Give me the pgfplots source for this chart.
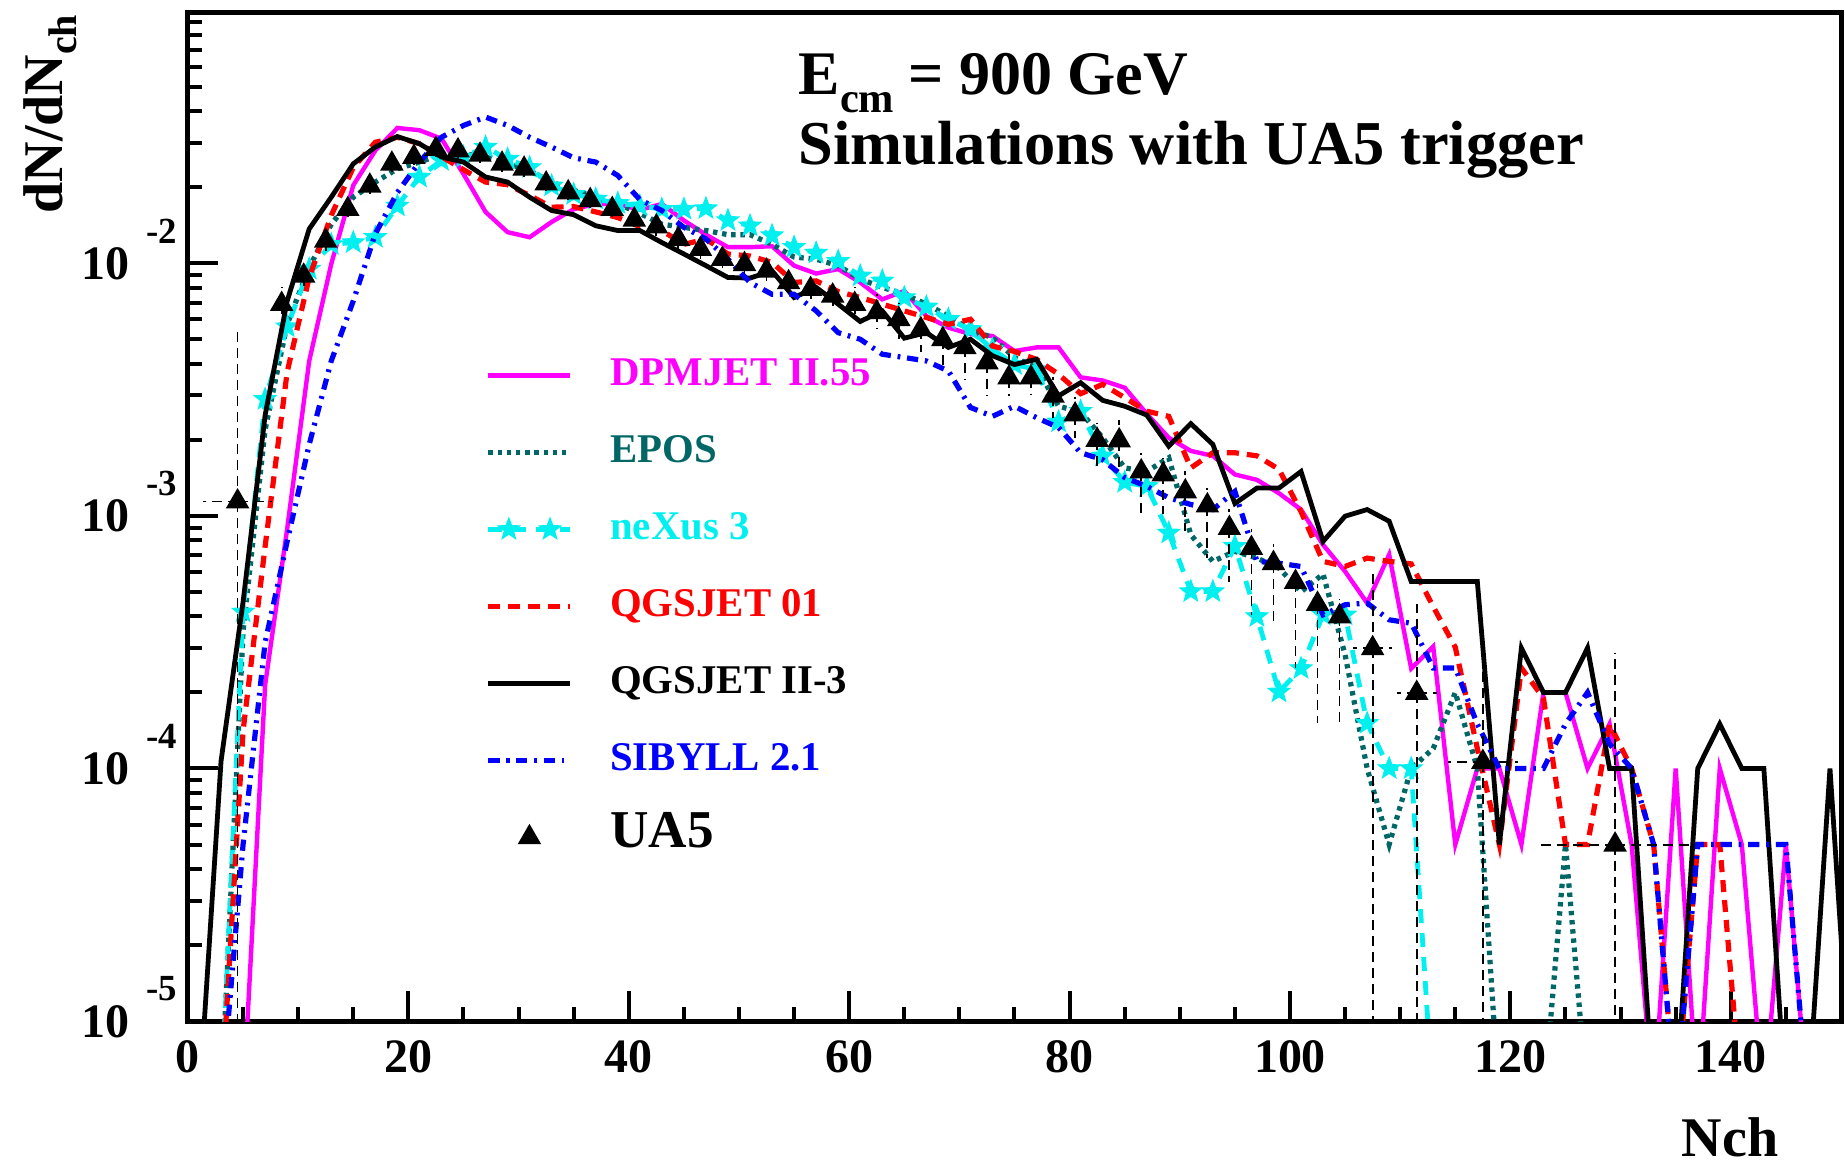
\documentclass[border=0pt]{standalone}
\usepackage{fontspec}
\setmainfont{Liberation Serif}
\usepackage{pgfplots}
\pgfplotsset{compat=1.18}

\definecolor{dpm}{RGB}{255,0,255}
\definecolor{epos}{RGB}{0,102,102}
\definecolor{nex}{RGB}{0,240,240}
\definecolor{qgs}{RGB}{255,0,0}
\definecolor{syb}{RGB}{0,0,255}

% filled five-pointed star
\pgfdeclareplotmark{fstar}{%
  \pgfpathmoveto{\pgfpointpolar{90}{\pgfplotmarksize}}%
  \pgfpathlineto{\pgfpointpolar{126}{0.42\pgfplotmarksize}}%
  \pgfpathlineto{\pgfpointpolar{162}{\pgfplotmarksize}}%
  \pgfpathlineto{\pgfpointpolar{198}{0.42\pgfplotmarksize}}%
  \pgfpathlineto{\pgfpointpolar{234}{\pgfplotmarksize}}%
  \pgfpathlineto{\pgfpointpolar{270}{0.42\pgfplotmarksize}}%
  \pgfpathlineto{\pgfpointpolar{306}{\pgfplotmarksize}}%
  \pgfpathlineto{\pgfpointpolar{342}{0.42\pgfplotmarksize}}%
  \pgfpathlineto{\pgfpointpolar{18}{\pgfplotmarksize}}%
  \pgfpathlineto{\pgfpointpolar{54}{0.42\pgfplotmarksize}}%
  \pgfpathclose
  \pgfusepathqfillstroke}

\pgfplotsset{
  linelegend/.style={legend image code/.code={\draw[mark repeat=2, mark phase=2, ##1] plot coordinates {(0pt,0pt) (5.1pt,0pt) (10.25pt,0pt) (15.4pt,0pt) (20.5pt,0pt)};}},
  ualegend/.style={legend image code/.code={\draw[##1] plot coordinates {(10.25pt,0pt)};}},
}

% ROOT style log label: 10 with exponent up right
\newcommand{\ytl}[1]{\textbf{10}\rlap{\hspace{4.2pt}\raisebox{9.1pt}{\fontsize{9.2}{9}\selectfont\textbf{-#1}}}}

\pgfplotstableread{
x     y        ex   eyp      eym
4.5   1.14e-3  3.1  4.43e-3  1.135e-3
8.5   6.9e-3   0    1.14e-3  0.89e-3
10.5  8.93e-3  0    1.07e-3  0.89e-3
12.5  1.23e-2  0    1.8e-3   1.4e-3
14.5  1.64e-2  0    1.1e-3   1.1e-3
16.5  2.03e-2  0    1.4e-3   1.4e-3
18.5  2.48e-2  0    1.7e-3   1.7e-3
20.5  2.64e-2  0    1.8e-3   1.8e-3
22.5  2.84e-2  0    2.0e-3   2.0e-3
24.5  2.80e-2  0    2.0e-3   2.0e-3
26.5  2.69e-2  0    1.9e-3   1.9e-3
28.5  2.48e-2  0    1.7e-3   1.7e-3
30.5  2.37e-2  0    1.7e-3   1.7e-3
32.5  2.07e-2  0    1.4e-3   1.4e-3
34.5  1.91e-2  0    1.3e-3   1.3e-3
36.5  1.78e-2  0    1.2e-3   1.2e-3
38.5  1.64e-2  0    1.1e-3   1.1e-3
40.5  1.49e-2  0    1.5e-3   1.0e-3
42.5  1.40e-2  0    1.2e-3   1.1e-3
44.5  1.25e-2  0    1.4e-3   1.1e-3
46.5  1.14e-2  0    1.5e-3   1.0e-3
48.5  1.04e-2  0    1.0e-3   0.85e-3
50.5  9.93e-3  0    0.97e-3  0.81e-3
52.5  9.35e-3  0    0.85e-3  0.84e-3
54.5  8.41e-3  0    0.92e-3  0.82e-3
56.5  7.91e-3  0    1.0e-3   0.91e-3
58.5  7.45e-3  0    1.06e-3  0.99e-3
60.5  6.9e-3   0    1.14e-3  0.73e-3
62.5  6.4e-3   0    1.19e-3  0.9e-3
64.5  6.01e-3  0    0.99e-3  1.0e-3
66.5  5.48e-3  0    0.83e-3  1.01e-3
68.5  5.01e-3  0    0.56e-3  1.03e-3
70.5  4.65e-3  0    0.6e-3   1.18e-3
72.5  4.05e-3  0    0.63e-3  1.03e-3
74.5  3.53e-3  0    0.84e-3  0.54e-3
76.5  3.53e-3  0    0.58e-3  0.5e-3
78.5  2.99e-3  0    0.56e-3  0.54e-3
80.5  2.52e-3  0    0.43e-3  0.48e-3
82.5  2.0e-3   0    0.34e-3  0.49e-3
84.5  1.99e-3  0    0.41e-3  0.44e-3
86.5  1.50e-3  0    0.28e-3  0.5e-3
88.5  1.46e-3  0    0.24e-3  0.44e-3
90.5  1.25e-3  0    0.26e-3  0.38e-3
92.5  1.10e-3  0    0.19e-3  0.42e-3
94.5  8.95e-4  0    1.75e-4  3.45e-4
96.5  7.46e-4  0    1.45e-4  3.39e-4
98.5  6.5e-4   0    1.26e-4  2.87e-4
100.5 5.47e-4  0    0.99e-4  2.96e-4
102.5 4.48e-4  0    0.89e-4  2.97e-4
104.5 4.0e-4   0    0.68e-4  2.49e-4
107.5 2.99e-4  1.8  3.04e-4  2.94e-4
111.5 1.99e-4  1.8  2.48e-4  1.94e-4
117.5 1.06e-4  3.2  2.33e-4  1.01e-4
129.5 4.99e-5  6.8  2.38e-4  4.49e-5
}\uafive

\begin{document}
\begin{tikzpicture}
\begin{axis}[
  name=ax,
  scale only axis, width=413.25pt, height=252.25pt,
  xmin=0, xmax=150, ymode=log, ymin=1e-5, ymax=0.099,
  axis line style={line width=1.25pt},
  tick pos=left, tick align=inside,
  major tick length=7.5pt, minor tick length=3.6pt,
  tick style={line width=1pt, black},
  xtick={0,20,...,140}, xticklabels={0,20,40,60,80,100,120,140},
  minor xtick={5,10,...,145},
  ytick={1e-5,1e-4,1e-3,1e-2}, yticklabels={\ytl{5},\ytl{4},\ytl{3},\ytl{2}},
  minor ytick={2e-5,3e-5,4e-5,5e-5,6e-5,7e-5,8e-5,9e-5,2e-4,3e-4,4e-4,5e-4,6e-4,7e-4,8e-4,9e-4,2e-3,3e-3,4e-3,5e-3,6e-3,7e-3,8e-3,9e-3,2e-2,3e-2,4e-2,5e-2,6e-2,7e-2,8e-2,9e-2},
  xticklabel style={font=\bfseries\fontsize{12}{13}\selectfont, anchor=north, inner sep=0pt, yshift=-4.8pt},
  yticklabel style={font=\bfseries\fontsize{12}{13}\selectfont, anchor=base east, inner sep=0pt, xshift=-14.4pt, yshift=-4pt},
  clip marker paths=true,
  legend cell align=left,
  legend style={at={(0.1797,0.6585)}, anchor=north west, draw=none, fill=none, inner sep=0pt,
    row sep=10.25pt, column sep=9.3pt,
    nodes={inner sep=0pt, text height=7pt, text depth=2pt},
    font=\bfseries\fontsize{10.2}{10}\selectfont},
  linelegend,
]

% DPMJET II.55
\addplot[dpm, line width=1.1pt] coordinates {
(1,4.7e-6) (3,4.7e-6) (5,4.7e-6) (7,2.14e-4) (9,8.9e-4) (11,4.11e-3) (13,9.95e-3) (15,2.04e-2) (17,2.80e-2) (19,3.44e-2)
(21,3.37e-2) (23,3.12e-2) (25,2.26e-2) (27,1.60e-2) (29,1.33e-2) (31,1.27e-2) (33,1.46e-2) (35,1.64e-2) (37,1.72e-2) (39,1.72e-2)
(41,1.63e-2) (43,1.72e-2) (45,1.48e-2) (47,1.30e-2) (49,1.16e-2) (51,1.16e-2) (53,1.17e-2) (55,9.8e-3) (57,9.12e-3) (59,9.5e-3)
(61,8.41e-3) (63,7.21e-3) (65,7.78e-3) (67,6.19e-3) (69,5.57e-3) (71,5.25e-3) (73,5.16e-3) (75,4.50e-3) (77,4.65e-3) (79,4.65e-3)
(81,3.54e-3) (83,3.44e-3) (85,3.22e-3) (87,2.54e-3) (89,2.04e-3) (91,1.81e-3) (93,1.73e-3) (95,1.46e-3) (97,1.39e-3) (99,1.23e-3)
(101,1.06e-3) (103,7.69e-4) (105,6.03e-4) (107,4.52e-4) (109,7.03e-4) (111,2.49e-4) (113,3.04e-4) (115,5e-5) (117,1e-4) (119,1e-4)
(121,5e-5) (123,2e-4) (125,2e-4) (127,1e-4) (129,1.5e-4) (131,5e-5) (133,4.7e-6) (135,1e-4) (137,4.7e-6) (139,1e-4)
(141,5e-5) (143,4.7e-6) (145,5e-5) (147,4.7e-6) (149,4.7e-6) (151,4.7e-6)
};
\addlegendentry{\textcolor{dpm}{DPMJET II.55}}

% EPOS
\addplot[epos, line width=1.3pt, dash pattern=on 1.1pt off 1.2pt] coordinates {
(1,4.7e-6) (3,4.7e-6) (5,3.5e-4) (7,2.2e-3) (9,5.75e-3) (11,9.64e-3) (13,1.43e-2) (15,1.83e-2) (17,2.10e-2) (19,2.37e-2)
(21,2.52e-2) (23,2.70e-2) (25,2.72e-2) (27,2.64e-2) (29,2.48e-2) (31,2.33e-2) (33,2.10e-2) (35,1.95e-2) (37,1.83e-2) (39,1.72e-2)
(41,1.58e-2) (43,1.43e-2) (45,1.39e-2) (47,1.35e-2) (49,1.30e-2) (51,1.30e-2) (53,1.19e-2) (55,1.06e-2) (57,1.04e-2) (59,9.8e-3)
(61,8.67e-3) (63,8.04e-3) (65,7.55e-3) (67,6.9e-3) (69,6.19e-3) (71,5.48e-3) (73,5.08e-3) (75,4.24e-3) (77,3.86e-3) (79,2.72e-3)
(81,2.58e-3) (83,2.04e-3) (85,1.55e-3) (87,1.50e-3) (89,1.70e-3) (91,8.43e-4) (93,6.61e-4) (95,7.24e-4) (97,6.81e-4) (99,6.22e-4)
(101,5.01e-4) (103,5.89e-4) (105,2.82e-4) (107,1e-4) (109,5e-5) (111,1e-4) (113,1.2e-4) (115,2e-4) (117,1e-4) (119,4.7e-6)
(121,4.7e-6) (123,4.7e-6) (125,5e-5) (127,4.7e-6) (129,4.7e-6) (131,4.7e-6)
};
\addlegendentry{\textcolor{epos}{EPOS}}

% neXus 3
\addplot[nex, line width=1.2pt, dash pattern=on 3.5pt off 2.5pt, mark=fstar, mark size=2.8pt,
  mark options={solid, fill=nex, draw=nex, line width=0.3pt}] coordinates {
(3,4.7e-6) (5,4.17e-4) (7,2.90e-3) (9,5.62e-3) (11,9.5e-3) (13,1.19e-2) (15,1.21e-2) (17,1.27e-2) (19,1.69e-2)
(21,2.20e-2) (23,2.56e-2) (25,2.64e-2) (27,2.89e-2) (29,2.59e-2) (31,2.40e-2) (33,2.03e-2) (35,1.88e-2) (37,1.80e-2) (39,1.73e-2)
(41,1.69e-2) (43,1.64e-2) (45,1.64e-2) (47,1.65e-2) (49,1.48e-2) (51,1.41e-2) (53,1.29e-2) (55,1.16e-2) (57,1.10e-2) (59,1.02e-2)
(61,8.93e-3) (63,8.53e-3) (65,7.33e-3) (67,6.73e-3) (69,6.01e-3) (71,5.48e-3) (73,4.57e-3) (75,3.98e-3) (77,3.80e-3) (79,2.36e-3)
(81,2.60e-3) (83,1.73e-3) (85,1.36e-3) (87,1.31e-3) (89,8.57e-4) (91,5.02e-4) (93,5.02e-4) (95,7.59e-4) (97,4.0e-4) (99,2.01e-4)
(101,2.49e-4) (103,4.06e-4) (105,4.06e-4) (107,1.51e-4) (109,1e-4) (111,1e-4) (113,4.7e-6) (115,4.7e-6)
};
\addlegendentry{\textcolor{nex}{neXus 3}}

% QGSJET 01
\addplot[qgs, line width=1.3pt, dash pattern=on 3pt off 2pt] coordinates {
(1,4.7e-6) (3,4.7e-6) (5,1.41e-4) (7,7.59e-4) (9,3.72e-3) (11,8.81e-3) (13,1.55e-2) (15,2.40e-2) (17,3.02e-2) (19,3.16e-2)
(21,2.98e-2) (23,2.65e-2) (25,2.35e-2) (27,2.10e-2) (29,2.05e-2) (31,1.86e-2) (33,1.67e-2) (35,1.68e-2) (37,1.60e-2) (39,1.52e-2)
(41,1.40e-2) (43,1.35e-2) (45,1.19e-2) (47,1.25e-2) (49,1.09e-2) (51,1.07e-2) (53,1.01e-2) (55,8.41e-3) (57,8.53e-3) (59,7.74e-3)
(61,7.33e-3) (63,6.9e-3) (65,6.49e-3) (67,6.11e-3) (69,5.74e-3) (71,6.01e-3) (73,4.71e-3) (75,4.48e-3) (77,4.17e-3) (79,3.64e-3)
(81,3.05e-3) (83,3.32e-3) (85,2.94e-3) (87,2.60e-3) (89,2.48e-3) (91,1.55e-3) (93,1.78e-3) (95,1.78e-3) (97,1.73e-3) (99,1.53e-3)
(101,1.04e-3) (103,6.61e-4) (105,6.31e-4) (107,6.81e-4) (109,6.61e-4) (111,6.46e-4) (113,4.37e-4) (115,3.02e-4) (117,1.2e-4) (119,5e-5)
(121,2.5e-4) (123,1.9e-4) (125,5e-5) (127,5e-5) (129,1.5e-4) (131,1e-4) (133,5e-5) (135,4.7e-6) (137,5e-5) (139,5e-5)
(141,4.7e-6) (143,4.7e-6) (145,4.7e-6) (147,4.7e-6) (149,4.7e-6)
};
\addlegendentry{\textcolor{qgs}{QGSJET 01}}

% QGSJET II-3
\addplot[black, line width=1.2pt] coordinates {
(1,4.7e-6) (3,1.07e-4) (5,4.57e-4) (7,2.51e-3) (9,7.1e-3) (11,1.37e-2) (13,1.83e-2) (15,2.48e-2) (17,2.89e-2) (19,3.18e-2)
(21,2.98e-2) (23,2.64e-2) (25,2.52e-2) (27,2.20e-2) (29,2.10e-2) (31,1.83e-2) (33,1.62e-2) (35,1.56e-2) (37,1.41e-2) (39,1.35e-2)
(41,1.35e-2) (43,1.21e-2) (45,1.09e-2) (47,9.8e-3) (49,8.8e-3) (51,8.75e-3) (53,9.35e-3) (55,7.33e-3) (57,8.04e-3) (59,6.9e-3)
(61,5.89e-3) (63,6.49e-3) (65,5.06e-3) (67,5.32e-3) (69,4.65e-3) (71,5.01e-3) (73,4.31e-3) (75,3.98e-3) (77,4.17e-3) (79,2.99e-3)
(81,3.37e-3) (83,2.87e-3) (85,2.72e-3) (87,2.51e-3) (89,1.89e-3) (91,2.32e-3) (93,1.92e-3) (95,1.12e-3) (97,1.29e-3) (99,1.29e-3)
(101,1.50e-3) (103,7.93e-4) (105,9.98e-4) (107,1.06e-3) (109,9.53e-4) (111,5.5e-4) (113,5.5e-4) (115,5.5e-4) (117,5.5e-4) (119,5e-5)
(121,3.0e-4) (123,2.0e-4) (125,2.0e-4) (127,3.0e-4) (129,1e-4) (131,1e-4) (133,4.7e-6) (135,4.7e-6) (137,1e-4) (139,1.5e-4)
(141,1e-4) (143,1e-4) (145,4.7e-6) (147,4.7e-6) (149,1e-4) (151,4.7e-6)
};
\addlegendentry{QGSJET II-3}

% SIBYLL 2.1
\addplot[syb, line width=1.3pt, dash pattern=on 2.8pt off 1.7pt on 0.7pt off 1.7pt] coordinates {
(1,4.7e-6) (3,4.7e-6) (5,5.01e-5) (7,3.16e-4) (9,7.94e-4) (11,1.92e-3) (13,4.11e-3) (15,7.11e-3) (17,1.31e-2) (19,1.91e-2)
(21,2.52e-2) (23,3.16e-2) (25,3.52e-2) (27,3.80e-2) (29,3.52e-2) (31,3.16e-2) (33,2.89e-2) (35,2.62e-2) (37,2.52e-2) (39,2.23e-2)
(41,1.79e-2) (43,1.62e-2) (45,1.39e-2) (47,1.25e-2) (49,1.04e-2) (51,8.41e-3) (53,7.55e-3) (55,7.55e-3) (57,6.49e-3) (59,5.32e-3)
(61,5.01e-3) (63,4.37e-3) (65,4.24e-3) (67,4.11e-3) (69,3.75e-3) (71,2.69e-3) (73,2.48e-3) (75,2.72e-3) (77,2.45e-3) (79,2.24e-3)
(81,1.78e-3) (83,1.67e-3) (85,1.42e-3) (87,1.31e-3) (89,1.18e-3) (91,1.11e-3) (93,1.06e-3) (95,1.25e-3) (97,6.61e-4) (99,6.5e-4)
(101,6.31e-4) (103,4.06e-4) (105,4.45e-4) (107,4.52e-4) (109,3.88e-4) (111,3.76e-4) (113,2.5e-4) (115,2.5e-4) (117,1.5e-4) (119,1e-4)
(121,1e-4) (123,1e-4) (125,1.5e-4) (127,2e-4) (129,1.25e-4) (131,1e-4) (133,5e-5) (135,4.7e-6) (137,5e-5) (139,5e-5)
(141,5e-5) (143,5e-5) (145,5e-5) (147,4.7e-6) (149,4.7e-6)
};
\addlegendentry{\textcolor{syb}{SIBYLL 2.1}}

% UA5 data
\addplot[black, only marks, mark=triangle*, mark size=3pt, ualegend,
  error bars/.cd, x dir=both, x explicit, y dir=both, y explicit, error mark=none,
  error bar style={black, line width=0.45pt, dash pattern=on 2.5pt off 1.5pt}]
  table[x=x, y=y, x error=ex, y error plus=eyp, y error minus=eym] {\uafive};
\addlegendentry{\fontsize{13.3}{14}\selectfont UA5}
\end{axis}

\node[anchor=base west, inner sep=0pt, font=\bfseries\fontsize{15.5}{16}\selectfont]
  at ([xshift=152.5pt,yshift=-20.5pt]ax.north west)
  {E\raisebox{-4.5pt}{\fontsize{10.6}{11}\selectfont cm}\hspace{3.5pt}= 900 GeV};
\node[anchor=base west, inner sep=0pt, font=\bfseries\fontsize{15.6}{16}\selectfont]
  at ([xshift=152.5pt,yshift=-38.2pt]ax.north west) {Simulations with UA5 trigger};
\node[rotate=90, anchor=base east, inner sep=0pt, font=\bfseries\fontsize{14}{15}\selectfont]
  at ([xshift=-31.25pt,yshift=-0.5pt]ax.north west) {dN/dN\raisebox{-3.5pt}{\fontsize{10}{10}\selectfont ch}};
\node[anchor=base east, inner sep=0pt, font=\bfseries\fontsize{14}{15}\selectfont]
  at ([xshift=-15.5pt,yshift=-34pt]ax.south east) {Nch};

\pgfresetboundingbox
\path[use as bounding box] ([xshift=-47pt,yshift=-36pt]ax.south west) rectangle ([xshift=1pt,yshift=3pt]ax.north east);
\end{tikzpicture}
\end{document}
